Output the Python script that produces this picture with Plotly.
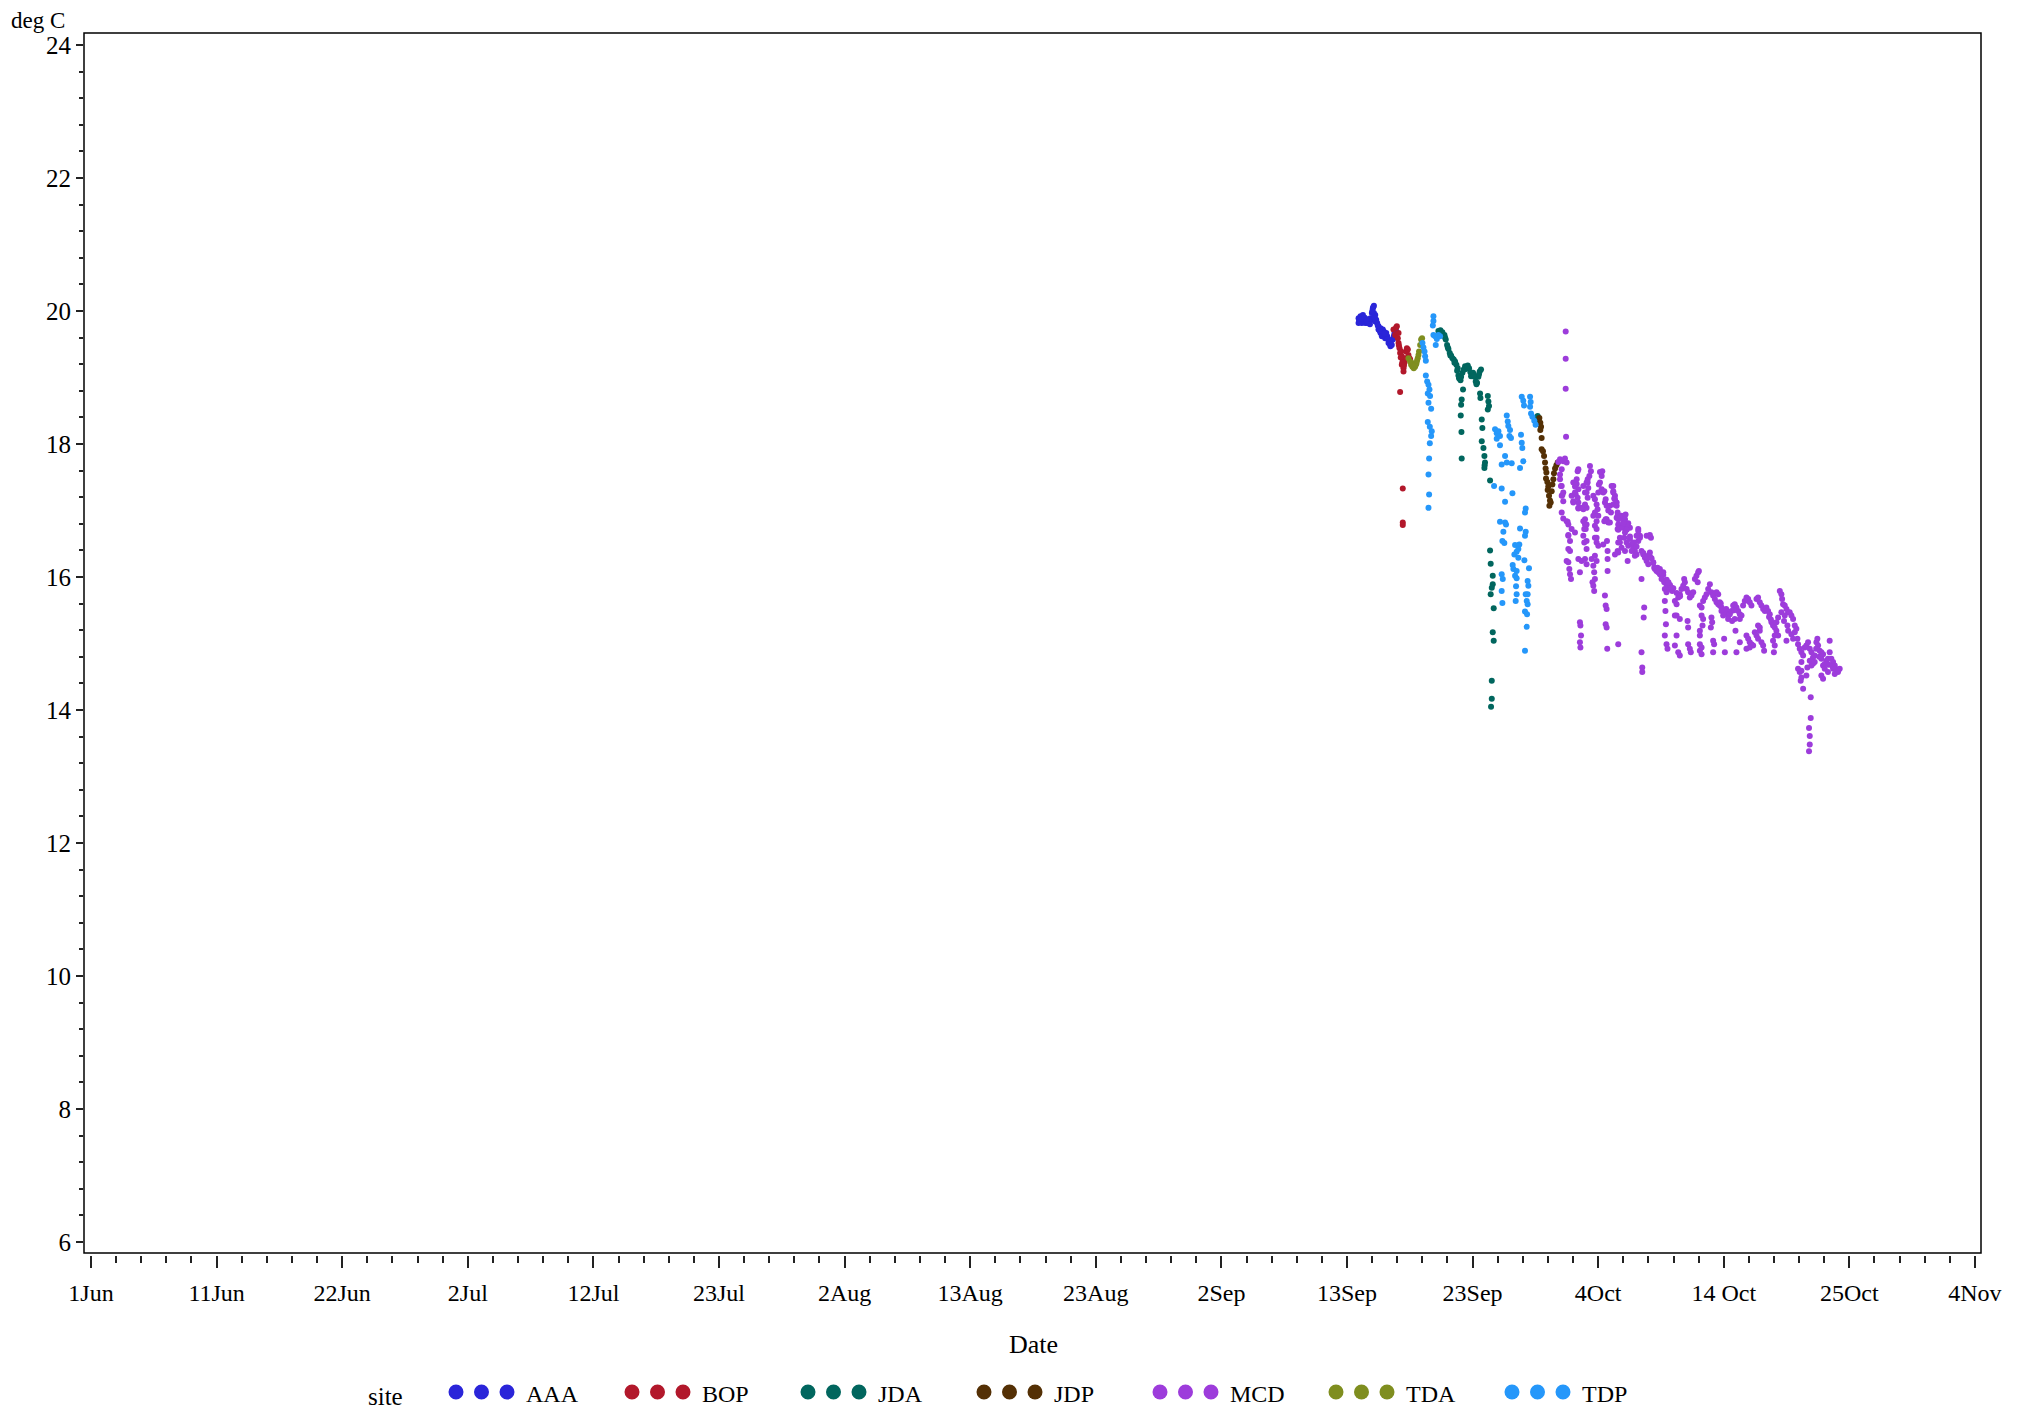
import plotly.graph_objects as go

# ---------------- data (x = days since 1 June, y = deg C) ----------------
X_TICK_DAYS = [0, 10.4, 20.8, 31.2, 41.6, 52, 62.4, 72.8, 83.2, 93.6, 104, 114.4, 124.8, 135.2, 145.6, 156]
X_TICK_LABELS = ["1Jun", "11Jun", "22Jun", "2Jul", "12Jul", "23Jul", "2Aug", "13Aug", "23Aug",
                 "2Sep", "13Sep", "23Sep", "4Oct", "14 Oct", "25Oct", "4Nov"]
Y_TICKS = [6, 8, 10, 12, 14, 16, 18, 20, 22, 24]

SITES = ["AAA", "BOP", "JDA", "JDP", "MCD", "TDA", "TDP"]
SITE_COLORS = ["#2A25D9", "#B2182B", "#01665E", "#543005", "#9D3CDB", "#7F8E1F", "#2597FA"]

AAA = [(104.96, 19.89), (104.96, 19.82), (105.04, 19.87), (105.12, 19.92), (105.12, 19.84), (105.23, 19.82),
       (105.32, 19.94), (105.32, 19.87), (105.40, 19.84), (105.51, 19.82), (105.51, 19.89), (105.59, 19.84),
       (105.67, 19.82), (105.78, 19.87), (105.78, 19.82), (105.87, 19.84), (105.95, 19.89), (106.06, 19.97),
       (106.06, 19.87), (106.14, 20.04), (106.23, 20.08), (106.23, 19.97), (106.34, 19.94), (106.34, 19.84),
       (106.42, 19.87), (106.50, 19.82), (106.61, 19.77), (106.61, 19.72), (106.69, 19.72), (106.78, 19.67),
       (106.78, 19.74), (106.89, 19.69), (106.89, 19.62), (106.97, 19.72), (107.05, 19.69), (107.16, 19.64),
       (107.16, 19.59), (107.25, 19.67), (107.33, 19.62), (107.44, 19.57), (107.44, 19.52), (107.52, 19.52),
       (107.60, 19.47), (107.71, 19.49), (107.80, 19.57), (107.88, 19.62), (107.99, 19.69), (108.07, 19.70),
       (105.00, 19.85), (105.18, 19.88), (105.45, 19.90), (105.63, 19.86), (105.90, 19.80), (106.10, 20.00),
       (106.18, 20.06), (106.28, 19.90), (106.55, 19.78), (106.72, 19.70), (107.10, 19.66), (107.38, 19.58),
       (107.56, 19.50), (107.66, 19.50), (107.93, 19.66)]

BOP = [(107.85, 19.72), (107.99, 19.64), (108.07, 19.75), (108.13, 19.77), (108.21, 19.59), (108.27, 19.52),
       (108.27, 19.67), (108.35, 19.44), (108.40, 19.37), (108.49, 19.39), (108.54, 19.32), (108.54, 19.19),
       (108.62, 19.27), (108.68, 19.14), (108.68, 19.09), (108.76, 19.22), (108.82, 19.29), (108.90, 19.39),
       (108.96, 19.44), (109.04, 19.42), (109.09, 19.34), (109.18, 19.29), (109.23, 19.27), (108.40, 18.78),
       (108.62, 17.33), (108.62, 16.82), (108.62, 16.78), (108.30, 19.48), (108.45, 19.30), (108.58, 19.22),
       (108.72, 19.18)]

TDA = [(109.09, 19.29), (109.23, 19.24), (109.31, 19.19), (109.42, 19.16), (109.53, 19.14), (109.64, 19.16),
       (109.75, 19.21), (109.86, 19.29), (109.97, 19.39), (110.06, 19.49), (110.14, 19.57), (110.22, 19.59),
       (109.36, 19.22), (109.47, 19.19), (109.58, 19.18), (109.70, 19.19), (109.80, 19.25), (109.92, 19.34)]

JDA = [(111.57, 19.70), (111.74, 19.71), (111.90, 19.68), (112.07, 19.64), (112.18, 19.57), (112.29, 19.49),
       (112.40, 19.43), (112.51, 19.37), (112.62, 19.33), (112.73, 19.29), (112.84, 19.27), (112.95, 19.24),
       (113.06, 19.19), (113.17, 19.14), (113.23, 19.03), (113.34, 18.98), (113.45, 19.01), (113.56, 19.07),
       (113.67, 19.12), (113.78, 19.17), (113.89, 19.13), (114.00, 19.18), (114.11, 19.14), (114.22, 19.08),
       (114.33, 19.04), (114.44, 19.07), (114.55, 19.01), (114.66, 18.94), (114.77, 18.92), (114.88, 19.01),
       (114.99, 19.09), (115.10, 19.12), (113.61, 18.82), (113.50, 18.67), (113.45, 18.59), (113.42, 18.43),
       (113.48, 18.18), (113.50, 17.78), (115.02, 18.76), (115.05, 18.69), (115.66, 18.72), (115.71, 18.64),
       (115.76, 18.57), (115.66, 18.52), (115.16, 18.37), (115.21, 18.24), (115.16, 18.04), (115.30, 17.94),
       (115.38, 17.82), (115.43, 17.72), (115.38, 17.64), (115.85, 17.45), (115.85, 16.40), (115.90, 16.20),
       (116.07, 16.02), (116.07, 15.89), (115.99, 15.84), (115.90, 15.74), (116.15, 15.53), (116.07, 15.17),
       (116.15, 15.04), (115.99, 14.44), (115.99, 14.17), (115.93, 14.05), (119.79, 18.42), (119.85, 18.37),
       (111.65, 19.66), (111.82, 19.67), (112.12, 19.60), (112.35, 19.45), (112.56, 19.33), (112.90, 19.22),
       (113.12, 19.10), (113.28, 18.99), (113.40, 18.96), (113.72, 19.12), (113.95, 19.15), (114.28, 19.02),
       (114.50, 19.03), (114.72, 18.90), (114.93, 19.05), (115.40, 17.68)]

JDP = [(119.93, 18.39), (120.01, 18.32), (120.07, 18.26), (120.01, 18.21), (120.12, 18.09), (120.12, 17.92),
       (120.23, 17.89), (120.32, 17.82), (120.40, 17.72), (120.45, 17.63), (120.51, 17.57), (120.48, 17.48),
       (120.59, 17.43), (120.67, 17.36), (120.62, 17.31), (120.73, 17.22), (120.81, 17.15), (120.76, 17.07),
       (120.87, 17.12), (120.95, 17.29), (121.01, 17.39), (121.09, 17.47), (121.14, 17.56), (121.23, 17.63),
       (121.34, 17.68), (121.45, 17.72)]

TDP = [(110.25, 19.52), (110.33, 19.45), (110.42, 19.39), (110.47, 19.32), (110.53, 19.25), (110.53, 19.03),
       (110.64, 18.94), (110.75, 18.89), (110.83, 18.82), (110.69, 18.76), (110.88, 18.72), (110.75, 18.62),
       (110.97, 18.53), (110.69, 18.33), (110.86, 18.26), (111.02, 18.19), (110.97, 18.12), (110.86, 18.01),
       (110.80, 17.78), (110.75, 17.54), (110.80, 17.24), (110.75, 17.04), (111.16, 19.92), (111.16, 19.85),
       (111.11, 19.78), (111.16, 19.64), (111.30, 19.62), (111.44, 19.58), (111.57, 19.64), (111.35, 19.49),
       (111.71, 19.62),
       (116.26, 18.22), (116.40, 18.16), (116.54, 18.19), (116.67, 18.12), (116.40, 18.08), (117.23, 18.43),
       (117.31, 18.34), (117.36, 18.27), (117.50, 18.21), (117.45, 18.12), (117.58, 18.09), (118.47, 18.71),
       (118.60, 18.65), (118.66, 18.58), (119.16, 18.71), (119.21, 18.63), (119.16, 18.56), (119.24, 18.46),
       (119.35, 18.41), (119.51, 18.35), (119.62, 18.29), (118.41, 18.14), (118.47, 18.02), (118.52, 17.94),
       (116.67, 17.98), (117.09, 17.82), (117.23, 17.72), (116.81, 17.69), (117.64, 17.71), (118.33, 17.64),
       (118.60, 17.74), (116.18, 17.37), (116.81, 17.33), (117.70, 17.26), (117.09, 17.13), (118.80, 17.03),
       (118.74, 16.97), (116.67, 16.83), (117.09, 16.82), (117.17, 16.79), (118.33, 16.73), (118.80, 16.68),
       (118.74, 16.62), (116.95, 16.68), (116.87, 16.54), (117.03, 16.51), (117.92, 16.48), (118.27, 16.49),
       (118.19, 16.42), (118.05, 16.38), (117.86, 16.34), (118.19, 16.29), (118.69, 16.25), (117.72, 16.18),
       (117.78, 16.12), (118.05, 16.09), (119.07, 16.13), (116.81, 16.04), (116.90, 15.97), (117.92, 16.02),
       (118.05, 15.98), (118.96, 15.94), (119.02, 15.87), (118.00, 15.86), (116.81, 15.79), (118.05, 15.74),
       (118.80, 15.74), (118.96, 15.74), (118.88, 15.64), (118.96, 15.59), (117.97, 15.64), (116.87, 15.61),
       (118.74, 15.48), (118.91, 15.44), (118.88, 15.25), (118.74, 14.89)]

MCD = [(122.11, 19.69), (122.11, 19.28), (122.11, 18.83), (122.14, 18.11),
       (121.50, 17.73), (121.64, 17.77), (121.78, 17.62), (121.91, 17.74), (122.05, 17.78), (122.19, 17.72),
       (121.64, 17.54), (121.72, 17.37), (121.83, 17.23), (121.91, 17.14), (121.91, 16.88), (122.27, 16.83),
       (122.33, 16.63), (122.74, 17.42), (122.88, 17.36), (122.94, 17.24), (123.02, 17.47), (123.10, 17.59),
       (123.16, 17.62), (123.16, 17.32), (123.10, 17.19), (123.16, 17.12), (122.74, 17.12), (123.16, 17.03),
       (123.57, 17.02), (123.84, 17.04), (123.71, 16.87), (123.65, 16.72), (123.84, 16.79), (123.57, 16.62),
       (124.12, 17.67), (124.20, 17.59), (124.07, 17.52), (123.93, 17.42), (123.98, 17.34), (123.84, 17.27),
       (123.93, 17.19), (123.71, 17.09), (124.67, 17.09), (124.75, 17.02), (124.53, 16.97), (124.40, 16.92),
       (124.81, 17.27), (125.09, 17.32), (125.22, 17.27), (124.95, 17.42), (125.09, 17.52), (125.14, 17.59),
       (124.95, 17.58), (124.86, 17.39), (125.36, 17.12), (125.50, 16.87), (125.64, 16.82), (125.31, 16.84),
       (125.77, 17.07), (125.86, 16.97), (126.05, 17.37), (126.05, 17.27), (126.19, 17.22), (126.33, 17.12),
       (126.13, 17.18), (126.41, 16.92), (126.46, 16.87), (126.74, 16.92), (127.02, 16.87), (127.07, 16.94),
       (126.88, 16.82), (126.74, 16.76), (127.15, 16.72), (127.29, 16.81), (127.43, 16.74), (128.12, 16.72),
       (128.26, 16.62), (128.81, 16.62), (129.08, 16.63), (126.46, 16.71), (126.60, 16.59), (124.67, 16.59),
       (121.64, 17.47), (121.78, 17.37), (121.78, 17.22), (121.91, 17.27), (121.78, 16.97), (122.19, 16.84),
       (122.33, 16.79), (122.33, 16.62), (122.47, 16.54), (122.33, 16.42), (122.47, 16.39), (122.19, 16.24),
       (122.33, 16.22), (122.41, 16.12), (122.47, 16.04), (122.55, 15.97), (122.60, 17.22), (122.74, 17.14),
       (122.88, 17.27), (123.02, 17.40), (122.60, 16.72), (122.88, 16.67), (123.16, 17.04), (123.43, 17.04),
       (123.16, 16.27), (123.43, 16.24), (123.29, 16.07), (123.29, 15.32), (123.33, 15.27), (123.38, 15.12),
       (123.29, 15.02), (123.33, 14.94), (123.57, 17.37), (123.71, 17.27), (123.84, 17.42), (123.93, 17.47),
       (123.57, 16.84), (123.71, 16.79), (123.77, 16.72), (123.65, 16.52), (123.84, 16.54), (123.84, 16.42),
       (123.71, 16.27), (123.84, 16.19), (124.26, 16.27), (124.40, 16.17), (124.47, 16.07), (124.53, 15.97),
       (124.33, 15.92), (124.40, 15.87), (124.47, 15.79), (124.40, 17.22), (124.53, 17.17), (124.81, 16.92),
       (124.67, 16.84), (124.53, 16.77), (124.67, 16.72), (124.53, 16.59), (124.67, 16.52), (124.81, 16.47),
       (124.53, 16.32), (124.67, 16.24), (125.31, 17.29), (125.42, 17.17), (125.50, 17.07), (125.64, 17.00),
       (125.42, 16.87), (125.53, 16.54), (125.22, 16.49), (125.58, 16.39), (125.58, 16.27), (125.58, 16.09),
       (125.36, 15.72), (125.42, 15.57), (125.50, 15.52), (125.42, 15.29), (125.50, 15.24), (125.55, 14.92),
       (126.46, 14.99), (125.91, 17.37), (126.05, 17.29), (126.19, 17.17), (126.05, 17.09), (126.33, 17.07),
       (126.41, 16.97), (126.33, 16.89), (125.77, 16.82), (126.46, 16.79), (126.60, 16.77), (126.41, 16.72),
       (126.46, 16.52), (126.41, 16.39), (126.46, 16.37), (126.19, 16.34), (126.88, 16.87), (127.02, 16.82),
       (127.07, 16.77), (127.15, 16.79), (126.80, 16.74), (127.02, 16.67), (126.96, 16.59), (127.15, 16.52),
       (127.29, 16.47), (126.60, 16.52), (126.74, 16.44), (127.02, 16.39), (127.24, 16.24), (127.43, 16.57),
       (127.57, 16.49), (127.70, 16.42), (127.84, 16.39), (127.57, 16.39), (127.77, 16.52), (127.98, 16.62),
       (128.12, 16.69), (128.12, 16.54), (127.98, 16.34), (127.84, 16.32), (128.39, 16.39), (128.53, 16.34),
       (128.67, 16.29), (128.81, 16.24), (128.95, 16.32), (129.08, 16.37), (129.01, 16.62), (129.17, 16.59),
       (128.95, 16.19), (129.36, 16.22), (129.44, 16.14), (128.39, 15.97), (128.61, 15.54), (128.57, 15.39),
       (128.39, 14.87), (128.45, 14.64), (128.45, 14.57), (129.50, 16.12), (129.63, 16.09), (129.77, 16.07),
       (129.91, 16.04), (130.05, 16.02), (130.19, 16.07), (129.91, 16.12), (129.72, 16.14), (130.05, 15.97),
       (130.27, 15.92), (130.46, 15.89), (130.60, 15.87), (130.32, 15.82), (130.46, 15.77), (130.32, 15.64),
       (130.37, 15.49), (130.41, 15.29), (130.32, 15.12), (130.46, 14.99), (130.54, 14.92), (130.74, 15.82),
       (130.93, 15.79), (131.15, 15.64), (131.29, 15.59), (131.43, 15.69), (131.56, 15.74), (131.70, 15.82),
       (131.84, 15.87), (131.98, 15.92), (131.92, 15.97), (132.12, 15.82), (132.25, 15.77), (132.39, 15.69),
       (132.53, 15.72), (132.67, 15.77), (132.81, 15.97), (132.94, 16.02), (133.08, 16.07), (133.14, 16.09),
       (133.04, 15.92), (131.15, 15.42), (131.29, 15.42), (131.56, 15.37), (131.29, 15.12), (131.15, 14.97),
       (131.43, 14.87), (131.56, 14.82), (132.20, 15.34), (132.25, 15.24), (132.25, 14.99), (132.39, 14.92),
       (132.47, 14.87), (133.22, 15.57), (133.36, 15.54), (133.49, 15.64), (133.63, 15.69), (133.77, 15.74),
       (133.91, 15.82), (134.05, 15.89), (134.18, 15.77), (134.32, 15.72), (134.46, 15.67), (133.22, 15.19),
       (133.22, 15.12), (133.22, 14.99), (133.22, 14.89), (133.36, 14.94), (133.36, 14.84), (133.36, 15.42),
       (133.49, 15.37), (133.44, 15.27), (134.18, 15.39), (134.24, 15.32), (134.13, 15.24), (134.32, 15.04),
       (134.40, 14.99), (134.32, 14.87), (134.60, 15.62), (134.74, 15.59), (134.87, 15.57), (135.01, 15.54),
       (135.29, 15.49), (135.42, 15.47), (135.56, 15.42), (135.70, 15.44), (135.84, 15.49), (135.98, 15.57),
       (136.11, 15.59), (136.25, 15.54), (136.39, 15.49), (136.53, 15.44), (136.67, 15.42), (135.56, 15.37),
       (135.89, 15.34), (136.11, 15.37), (136.53, 15.37), (134.74, 15.74), (134.60, 15.77), (134.87, 15.62),
       (135.01, 15.49), (135.15, 15.42), (135.23, 15.07), (135.29, 14.87), (136.17, 15.19), (136.25, 14.87),
       (136.53, 15.02), (136.80, 15.57), (136.94, 15.64), (137.08, 15.69), (137.22, 15.67), (137.35, 15.62),
       (137.49, 15.57), (137.91, 15.67), (138.04, 15.69), (138.18, 15.62), (138.32, 15.57), (138.46, 15.52),
       (138.60, 15.49), (138.73, 15.54), (138.87, 15.49), (139.01, 15.44), (137.08, 15.12), (137.22, 15.07),
       (137.35, 15.02), (137.49, 14.99), (137.63, 14.97), (137.08, 14.92), (137.35, 14.94), (137.77, 15.17),
       (137.91, 15.12), (138.04, 15.07), (138.18, 15.19), (138.32, 15.02), (138.46, 14.97), (138.54, 14.89),
       (138.04, 15.27), (138.18, 15.24), (139.15, 15.32), (139.28, 15.27), (139.42, 15.24), (139.56, 15.19),
       (139.70, 15.12), (139.42, 15.12), (139.28, 15.04), (139.42, 14.97), (139.35, 14.87), (139.84, 15.79),
       (139.97, 15.74), (140.03, 15.67), (140.11, 15.59), (140.25, 15.57), (140.39, 15.52), (140.53, 15.47),
       (139.97, 15.47), (140.25, 15.42), (140.19, 15.34), (140.47, 15.27), (140.53, 15.19), (140.39, 15.04),
       (139.70, 15.39), (139.56, 15.32), (140.66, 15.47), (140.80, 15.42), (140.94, 15.37), (141.08, 15.27),
       (141.08, 15.17), (141.21, 15.22), (141.30, 15.07), (140.80, 15.14), (140.94, 15.07), (141.35, 14.99),
       (141.49, 14.92), (141.63, 14.87), (141.77, 14.82), (141.63, 14.72), (141.35, 14.62), (141.49, 14.57),
       (141.63, 14.59), (141.57, 14.44), (141.63, 14.49), (141.77, 14.32), (142.40, 14.19), (142.40, 13.88),
       (142.26, 13.73), (142.32, 13.61), (142.32, 13.48), (142.26, 13.38), (141.90, 14.94), (142.04, 14.97),
       (142.18, 15.02), (142.32, 14.92), (142.46, 14.87), (142.59, 14.79), (142.73, 14.82), (142.87, 15.02),
       (142.95, 15.07), (143.01, 14.97), (143.14, 14.89), (143.28, 14.87), (143.42, 14.84), (143.28, 14.77),
       (143.42, 14.67), (143.56, 14.62), (143.28, 14.52), (143.42, 14.47), (143.70, 14.74), (143.83, 14.77),
       (143.97, 15.04), (143.97, 14.87), (144.11, 14.77), (144.25, 14.72), (144.39, 14.67), (144.52, 14.59),
       (144.66, 14.57), (144.39, 14.54), (144.25, 14.62), (143.83, 14.57), (143.56, 14.69), (142.73, 14.72),
       (142.46, 14.67), (142.32, 14.74), (142.12, 14.64), (142.04, 14.52), (144.80, 14.62),
       (126.60, 16.91), (126.88, 16.81), (127.16, 16.71), (127.43, 16.61), (127.71, 16.51), (127.98, 16.46),
       (128.26, 16.59), (128.54, 16.36), (128.81, 16.31), (129.09, 16.31), (129.36, 16.21), (129.64, 16.13),
       (129.92, 16.08), (130.19, 16.03), (130.47, 15.96), (130.75, 15.88), (131.02, 15.83), (131.30, 15.76),
       (131.58, 15.71), (129.22, 16.28), (129.80, 16.10), (130.10, 16.06), (130.62, 15.92), (130.88, 15.84),
       (138.95, 15.40), (139.10, 15.36), (136.05, 15.50), (135.40, 15.52), (134.95, 15.60), (142.60, 14.70),
       (142.85, 14.92), (143.10, 14.80), (143.90, 14.68), (144.20, 14.66), (144.45, 14.62), (144.70, 14.60)]

SITE_DATA = [AAA, BOP, JDA, JDP, MCD, TDA, TDP]

# ---------------- layout geometry (page pixels) ----------------
PAGE_W, PAGE_H = 2024, 1413
BODY = 8                      # default page margin around the plot div
W, H = PAGE_W - BODY, PAGE_H - BODY
PLOT_L, PLOT_R, PLOT_T, PLOT_B = 84, 1981, 33, 1255   # plot area in page pixels
ML, MT = PLOT_L - BODY, PLOT_T - BODY
MR, MB = PAGE_W - PLOT_R, PAGE_H - PLOT_B
PW, PH = PLOT_R - PLOT_L, PLOT_B - PLOT_T
FONT = "Liberation Serif"


def px_x(px):
    return (px - PLOT_L) / PW


def px_y(py):
    return (PLOT_B - py) / PH


fig = go.Figure()
for name, color, pts in zip(SITES, SITE_COLORS, SITE_DATA):
    fig.add_trace(go.Scatter(
        x=[p[0] for p in pts], y=[p[1] for p in pts], mode="markers", name=name,
        marker=dict(color=color, size=6, line=dict(width=0)), showlegend=False))

minor_x = [round(i * 2.08, 2) for i in range(76) if i % 5 != 0]

fig.update_layout(
    width=W, height=H, margin=dict(l=ML, r=MR, t=MT, b=MB, pad=0),
    paper_bgcolor="white", plot_bgcolor="white",
    font=dict(family=FONT, color="black", size=22),
    xaxis=dict(range=[-0.58, 156.5], tickmode="array", tickvals=X_TICK_DAYS, ticktext=X_TICK_LABELS,
               ticks="outside", ticklen=12, tickwidth=1.5, tickcolor="#222",
               minor=dict(tickmode="array", tickvals=minor_x, ticks="outside", ticklen=7, tickwidth=1.5,
                          tickcolor="#222", showgrid=False),
               showline=False, showgrid=False, zeroline=False, anchor="free", position=0,
               tickfont=dict(family=FONT, size=24), ticklabelstandoff=4),
    yaxis=dict(range=[5.835, 24.18], domain=[2 / PH, 1], tickmode="array", tickvals=Y_TICKS,
               ticks="outside", ticklen=7, tickwidth=1.5, tickcolor="#222",
               minor=dict(tick0=6, dtick=0.4, ticks="outside", ticklen=4, tickwidth=1.5,
                          tickcolor="#222", showgrid=False),
               showline=False, showgrid=False, zeroline=False,
               tickfont=dict(family=FONT, size=25), ticklabelstandoff=0),
)

# frame around the data area
fig.add_shape(type="rect", xref="x domain", yref="y domain", x0=0, x1=1, y0=0, y1=1,
              line=dict(color="black", width=1.5), fillcolor="rgba(0,0,0,0)", layer="above")

# axis titles
fig.add_annotation(text="deg C", xref="paper", yref="paper", x=px_x(9), y=px_y(20.5),
                   xanchor="left", yanchor="middle", showarrow=False, font=dict(family=FONT, size=23))
fig.add_annotation(text="Date", xref="paper", yref="paper", x=px_x(1033), y=px_y(1344),
                   xanchor="center", yanchor="middle", showarrow=False, font=dict(family=FONT, size=26))

# legend: "site" followed by three dots and a label per site
LEG_Y = 1392
fig.add_annotation(text="site", xref="paper", yref="paper", x=px_x(385), y=px_y(1396),
                   xanchor="center", yanchor="middle", showarrow=False, font=dict(family=FONT, size=25))
for i, (name, color) in enumerate(zip(SITES, SITE_COLORS)):
    base = 456 + 176 * i
    for j in range(3):
        cx = base + 25.5 * j
        fig.add_shape(type="circle", xref="paper", yref="paper",
                      x0=px_x(cx - 7.5), x1=px_x(cx + 7.5), y0=px_y(LEG_Y + 7.5), y1=px_y(LEG_Y - 7.5),
                      fillcolor=color, line=dict(width=0))
    fig.add_annotation(text=name, xref="paper", yref="paper", x=px_x(base + 68), y=px_y(1394),
                       xanchor="left", yanchor="middle", showarrow=False, font=dict(family=FONT, size=24))

fig.write_html("out.html")
